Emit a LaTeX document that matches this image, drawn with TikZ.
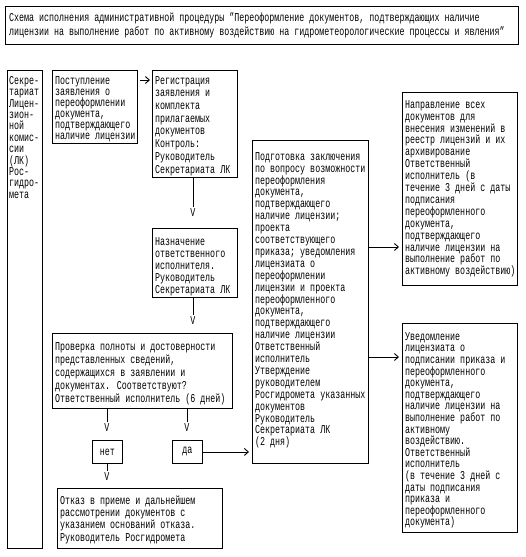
\documentclass[tikz,border=0pt]{standalone}
\usepackage{fontspec}
\setmainfont[FakeStretch=0.695]{Liberation Mono}
\usetikzlibrary{arrows.meta,calc}
\begin{document}
\begin{tikzpicture}[x=1pt,y=-1pt,
  box/.style={draw, line width=0.9pt, inner sep=0pt, anchor=north west},
  txt/.style={anchor=north west, inner sep=0pt, align=left, font=\fontsize{12}{#1}\selectfont},
  glyph/.style={inner sep=0pt, font=\fontsize{12}{12}\selectfont},
  conn/.style={line width=0.9pt},
  arr/.style={line width=0.9pt, -{Straight Barb[length=4pt,width=7pt]}}]
\useasboundingbox (0,0) rectangle (525,557);
% boxes
\node[box, minimum width=513pt, minimum height=38pt] (title) at (5,6) {};
\node[box, minimum width=35pt, minimum height=478pt] (lk) at (7,70) {};
\node[box, minimum width=85pt, minimum height=73pt] (post) at (52,70) {};
\node[box, minimum width=85pt, minimum height=107pt] (reg) at (152,70) {};
\node[box, minimum width=85pt, minimum height=69pt] (nazn) at (152,228) {};
\node[box, minimum width=180pt, minimum height=75pt] (prov) at (52,333) {};
\node[box, minimum width=30pt, minimum height=23pt] (net) at (92,440) {};
\node[box, minimum width=30pt, minimum height=23pt] (da) at (172,440) {};
\node[box, minimum width=165pt, minimum height=60pt] (otk) at (57,488) {};
\node[box, minimum width=116pt, minimum height=323pt] (prep) at (252,140) {};
\node[box, minimum width=115pt, minimum height=193pt] (napr) at (402,92) {};
\node[box, minimum width=115pt, minimum height=209pt] (uved) at (402,323) {};
% texts
\node[txt=14] (ttitle) at ($(title.north west)+(4,5.2)$) {\strut Схема исполнения административной процедуры "Переоформление документов, подтверждающих наличие\\лицензии на выполнение работ по активному воздействию на гидрометеорологические процессы и явления"};
\node[txt=11.4] (tlk) at ($(lk.north west)+(2,6)$) {\strut Секре-\\тариат\\Лицен-\\зион-\\ной\\комис-\\сии\\(ЛК)\\Рос-\\гидро-\\мета};
\node[txt=11] (tpost) at ($(post.north west)+(3,6.3)$) {\strut Поступление\\заявления о\\переоформлении\\документа,\\подтверждающего\\наличие лицензии};
\node[txt=12.7] (treg) at ($(reg.north west)+(3,5.1)$) {\strut Регистрация\\заявления и\\комплекта\\прилагаемых\\документов\\Контроль:\\Руководитель\\Секретариата ЛК};
\node[txt=12] (tnazn) at ($(nazn.north west)+(3,8.6)$) {\strut Назначение\\ответственного\\исполнителя.\\Руководитель\\Секретариата ЛК};
\node[txt=13] (tprov) at ($(prov.north west)+(3,7.9)$) {\strut Проверка полноты и достоверности\\представленных сведений,\\содержащихся в заявлении и\\документах. Соответствуют?\\Ответственный исполнитель (6 дней)};
\node[glyph] (tnet) at (net.center) {нет};
\node[glyph] (tda) at (da.center) {да};
\node[txt=12.3] (totk) at ($(otk.north west)+(3,7.4)$) {\strut Отказ в приеме и дальнейшем\\рассмотрении документов с\\указанием оснований отказа.\\Руководитель Росгидромета};
\node[txt=11.9] (tprep) at ($(prep.north west)+(3,11.7)$) {\strut Подготовка заключения\\по вопросу возможности\\переоформления\\документа,\\подтверждающего\\наличие лицензии;\\проекта\\соответствующего\\приказа; уведомления\\лицензиата о\\переоформлении\\лицензии и проекта\\переоформленного\\документа,\\подтверждающего\\наличие лицензии\\Ответственный\\исполнитель\\Утверждение\\руководителем\\Росгидромета указанных\\документов\\Руководитель\\Секретариата ЛК\\(2 дня)};
\node[txt=11.9] (tnapr) at ($(napr.north west)+(3,7.7)$) {\strut Направление всех\\документов для\\внесения изменений в\\реестр лицензий и их\\архивирование\\Ответственный\\исполнитель (в\\течение 3 дней с даты\\подписания\\переоформленного\\документа,\\подтверждающего\\наличие лицензии на\\выполнение работ по\\активному воздействию)};
\node[txt=11.6] (tuved) at ($(uved.north west)+(3,8.9)$) {\strut Уведомление\\лицензиата о\\подписании приказа и\\переоформленного\\документа,\\подтверждающего\\наличие лицензии на\\выполнение работ по\\активному\\воздействию.\\Ответственный\\исполнитель\\(в течение 3 дней с\\даты подписания\\приказа и\\переоформленного\\документа)};
% V glyphs (downward arrow heads)
\node[glyph] (v1) at (193,213) {V};
\node[glyph] (v2) at (193,321) {V};
\node[glyph] (v3) at (107,428) {V};
\node[glyph] (v4) at (187,428) {V};
\node[glyph] (v5) at (107,477) {V};
% connectors
\draw[arr, shorten <=2pt, shorten >=2pt] ($(post.north east)+(0,10)$) -- ($(reg.north west)+(0,10)$);
\draw[conn, shorten >=2pt] (reg.south -| v1) -- (v1.north);
\draw[conn, shorten >=2pt] (nazn.south -| v2) -- (v2.north);
\draw[conn, shorten >=2pt] (prov.south -| v3) -- (v3.north);
\draw[conn, shorten >=2pt] (prov.south -| v4) -- (v4.north);
\draw[conn, shorten >=2pt] (net.south -| v5) -- (v5.north);
\draw[arr, shorten >=3pt] (da.east) -- (da.east -| prep.west);
\coordinate (a1) at ($(prep.north east)+(0,107)$);
\coordinate (a2) at ($(prep.north east)+(0,217)$);
\draw[arr, shorten >=3pt] (a1) -- (a1 -| napr.west);
\draw[arr, shorten >=3pt] (a2) -- (a2 -| uved.west);
\end{tikzpicture}
\end{document}
